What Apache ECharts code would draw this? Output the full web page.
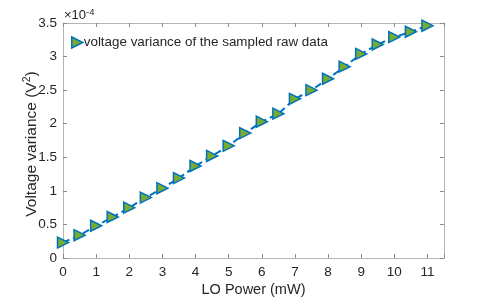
<!DOCTYPE html>
<html><head><meta charset="utf-8">
<script src="https://cdn.jsdelivr.net/npm/echarts@6/dist/echarts.min.js"></script>
<style>html,body{margin:0;padding:0;background:#fff}#c{width:491px;height:298px}</style>
</head><body><div id="c"></div>
<script>
// LO power (mW)
const loPower = [0,0.5,1,1.5,2,2.5,3,3.5,4,4.5,5,5.5,6,6.5,7,7.5,8,8.5,9,9.5,10,10.5,11];
// voltage variance, in units of 1e-4 V^2
const variance = [0.23,0.34,0.48,0.61,0.75,0.90,1.04,1.19,1.37,1.52,1.67,1.86,2.03,2.15,2.37,2.50,2.67,2.85,3.04,3.18,3.29,3.37,3.46];
const xTicks = [0,1,2,3,4,5,6,7,8,9,10,11];
const yTicks = [0,0.5,1,1.5,2,2.5,3,3.5];
const seriesName = 'voltage variance of the sampled raw data';

const font = 'Liberation Sans, Arial, Helvetica, sans-serif';
const txt = '#262626';
const lineC = '#b5b5b5';
const triRight = 'path://M0,0 L10,5 L0,10 Z';
const chart = echarts.init(document.getElementById('c'));
const axBase = () => ({
  axisLine:{show:true,onZero:false,lineStyle:{color:lineC,width:1}},
  axisTick:{show:true,inside:true,length:4,lineStyle:{color:'#8a8a8a',width:1}},
  splitLine:{show:false}
});
chart.setOption({
  animation:false,
  grid:{left:63,right:47,top:23,bottom:40,containLabel:false,outerBoundsMode:'none'},
  xAxis:[
    Object.assign({type:'value',min:0,max:11.5,interval:1,position:'bottom',
      name:'LO Power (mW)',nameLocation:'middle',nameGap:24,nameMoveOverlap:false,
      nameTextStyle:{color:txt,fontSize:14.5,fontFamily:font},
      axisLabel:{color:txt,fontSize:13.5,fontFamily:font,margin:7,
        formatter:v=>xTicks.includes(v)?String(v):''}},axBase()),
    Object.assign({type:'value',min:0,max:11.5,interval:1,position:'top',axisLabel:{show:false}},axBase())
  ],
  yAxis:[
    Object.assign({type:'value',min:0,max:3.5,interval:0.5,position:'left',
      name:'Voltage variance (V{sup|2})',nameLocation:'middle',nameGap:22,nameRotate:90,nameMoveOverlap:false,
      nameTextStyle:{color:txt,fontSize:15.5,fontFamily:font,padding:[0,7,0,0],
        rich:{sup:{fontSize:10.5,fontFamily:font,color:txt,verticalAlign:'top',padding:[0,0,8,0]}}},
      axisLabel:{color:txt,fontSize:13.5,fontFamily:font,margin:6,
        formatter:v=>yTicks.includes(v)?String(v):''}},axBase()),
    Object.assign({type:'value',min:0,max:3.5,interval:0.5,position:'right',axisLabel:{show:false}},axBase())
  ],
  legend:{show:true,left:66,top:31,itemWidth:11,itemHeight:11,itemGap:0,
    textStyle:{color:txt,fontSize:13.4,fontFamily:font,padding:[0,0,0,-4]},
    data:[{name:seriesName,icon:triRight,itemStyle:{color:'#77AC30',borderColor:'#0072BD',borderWidth:1.5}}]},
  graphic:[{type:'text',left:64,top:7,style:{
    text:'×10{s|-4}',fill:txt,fontSize:13,fontFamily:font,
    rich:{s:{fontSize:9.5,fontFamily:font,fill:txt,verticalAlign:'top',padding:[0,0,7,0]}}}}],
  series:[{
    name:seriesName,type:'line',xAxisIndex:0,yAxisIndex:0,
    data:loPower.map((x,i)=>[x,variance[i]]),
    symbol:triRight,symbolSize:11,showSymbol:true,
    lineStyle:{color:'#0072BD',width:2,type:[7,4]},
    itemStyle:{color:'#77AC30',borderColor:'#0072BD',borderWidth:1.5}
  }]
});
</script></body></html>
